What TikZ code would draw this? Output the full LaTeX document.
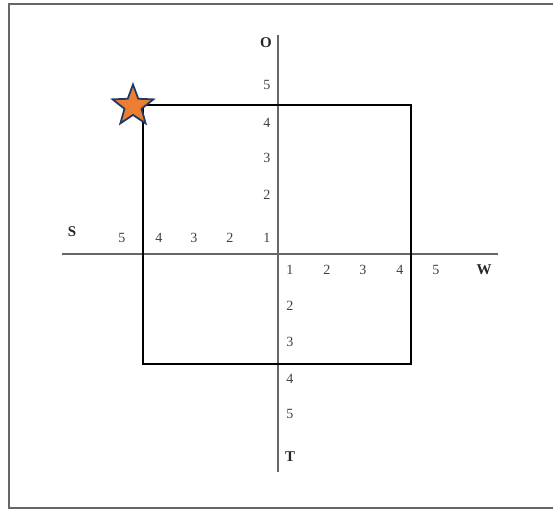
\documentclass[tikz,border=0pt]{standalone}
\usepackage{fontspec}
\setmainfont{Liberation Serif}
\usetikzlibrary{shapes.geometric}
\definecolor{starorange}{HTML}{ED7D31}
\definecolor{stardark}{HTML}{203864}
\begin{document}
\begin{tikzpicture}[
    x=0.02cm, y=-0.02cm,
    tick/.style={font=\fontsize{8}{9}\selectfont, text=black!75, inner sep=0pt},
    dir/.style={font=\bfseries\fontsize{8.5}{9}\selectfont, text=black!85, inner sep=0pt},
    axis/.style={draw=black!60, line width=1.4pt},
]
    \useasboundingbox (0,0) rectangle (553,510);

    % frame
    \draw[black!60, line width=1.3pt] (553,4) -- (9,4) -- (9,508) -- (553,508);

    % axes
    \draw[axis] (278,35) -- (278,472);
    \draw[axis] (62,254) -- (498,254);

    % square
    \draw[black, line width=0.9pt] (143,105) rectangle (411,364);

    % numbers on the axes
    \foreach \n/\yy in {5/85, 4/123, 3/158, 2/195, 1/238}
        \node[tick] (up\n) at (267,\yy) {\n};
    \foreach \n/\xx in {5/122, 4/159, 3/194, 2/230}
        \node[tick] (left\n) at (\xx,238) {\n};
    \foreach \n/\xx in {1/290, 2/327, 3/363, 4/400, 5/436}
        \node[tick] (right\n) at (\xx,270) {\n};
    \foreach \n/\yy in {2/306, 3/342, 4/379, 5/414}
        \node[tick] (down\n) at (290,\yy) {\n};

    % directions
    \node[dir] (o) at (266,43) {O};
    \node[dir] (s) at (72,232) {S};
    \node[dir] (w) at (484,270) {W};
    \node[dir] (t) at (290,457) {T};

    % star
    \node[star, star points=5, star point ratio=2.4, minimum size=0.86cm,
          fill=starorange, draw=stardark, line width=1pt, inner sep=0pt]
          (mark) at (133,106) {};
\end{tikzpicture}
\end{document}
